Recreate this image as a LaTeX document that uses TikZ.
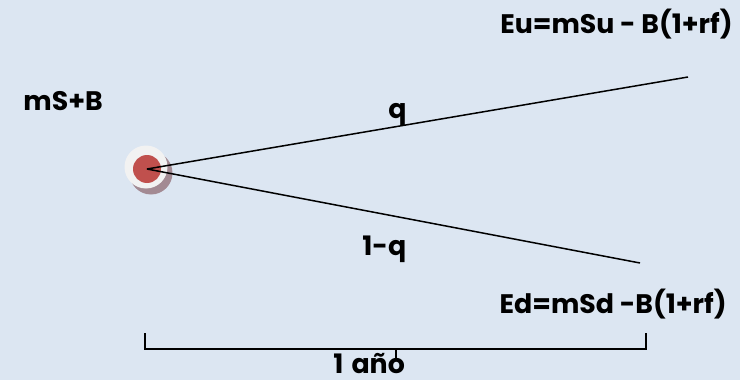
\documentclass[tikz,border=0pt]{standalone}
\usepackage{fontspec}
\setmainfont{Poppins}
\usetikzlibrary{positioning}
\definecolor{bgblue}{HTML}{DCE6F2}
\definecolor{dotred}{HTML}{C0504D}
\definecolor{dotring}{HTML}{F2F2F2}
\definecolor{dotshade}{HTML}{A38A93}

\begin{document}
\begin{tikzpicture}[x=0.5pt,y=-0.5pt,
  lbl/.style={font=\bfseries\fontsize{13.4}{15}\selectfont,inner sep=0pt},
  branch/.style={line width=0.75pt}]
\useasboundingbox (0,0) rectangle (740,380);
\fill[bgblue] (0,0) rectangle (740,380);
% start point of the tree
\fill[dotshade] (151,173) circle (21.5);
\fill[dotring] (146,167) circle (21.5);
\fill[dotred] (147,169) circle (14);
\coordinate (o) at (147,169);
\coordinate (up) at (688,77);
\coordinate (dn) at (640,263);
\draw[branch] (o) -- (up);
\draw[branch] (o) -- (dn);
\node[lbl,anchor=base west] (start) at (23,110) {mS+B};
\node[lbl,anchor=base west] (pq) at (388,119) {q};
\node[lbl,anchor=base west] (pnq) at (362,255) {1-q};
\node[lbl,anchor=base east] (eu) at (733,33) {Eu=mSu - B(1+rf)};
\node[lbl,anchor=base east] (ed) at (727,313) {Ed=mSd -B(1+rf)};
% time span
\coordinate (bl) at (145,333);
\coordinate (br) at (646,333);
\draw[line width=0.6pt] (bl) -- (145,349) -- (646,349) -- (br);
\draw[line width=0.6pt] (396,349) -- (396,361);
\node[lbl,anchor=base west] (yr) at (333,373) {1\hspace{0.3em}año};
\end{tikzpicture}
\end{document}
